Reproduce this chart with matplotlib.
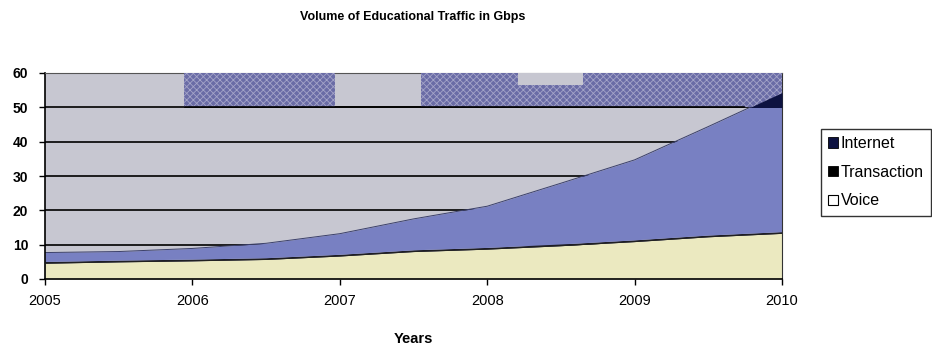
import matplotlib.pyplot as plt
from matplotlib.patches import Patch, Rectangle

# half-yearly samples, Gbps
years = [2005.0, 2005.5, 2006.0, 2006.5, 2007.0, 2007.5, 2008.0, 2008.5, 2009.0, 2009.5, 2010.0]
voice = [4.6, 5.0, 5.3, 5.7, 6.7, 8.0, 8.7, 9.7, 10.9, 12.3, 13.3]
transaction = [0.5, 0.5, 0.5, 0.5, 0.5, 0.5, 0.5, 0.5, 0.5, 0.5, 0.5]
internet = [2.6, 2.5, 3.1, 4.2, 6.0, 9.0, 12.0, 17.7, 23.3, 31.6, 40.5]

tick_years = [2005, 2006, 2007, 2008, 2009, 2010]
y_ticks = [0, 10, 20, 30, 40, 50, 60]
series_names = ["Internet", "Transaction", "Voice"]

BG = "#c7c7d1"
CREAM = "#ebe9c0"
BLUE = "#7880c2"
NAVY = "#0d1240"
TEXTURE = "#6a6ca6"

plt.rcParams["font.family"] = ["Liberation Sans", "DejaVu Sans"]
plt.rcParams["hatch.linewidth"] = 0.6

fig = plt.figure(figsize=(9.32, 3.48), dpi=100)
ax = fig.add_axes([45 / 932, 1 - 279 / 348, 737 / 932, 206 / 348])
ax.set_facecolor(BG)

# stacked layers
base = [0.0] * len(years)
voice_top = [b + v for b, v in zip(base, voice)]
trans_top = [v + t for v, t in zip(voice_top, transaction)]
inet_top = [t + i for t, i in zip(trans_top, internet)]

ax.fill_between(years, base, voice_top, color=CREAM, lw=0, zorder=2)
ax.fill_between(years, voice_top, trans_top, color="#1a1a2a", lw=0, zorder=2)

# internet layer: blue below 50, dark where it runs into the top band
inet_low = ax.fill_between(years, trans_top, inet_top, color=BLUE, lw=0, zorder=2)
inet_low.set_clip_path(Rectangle((2005, 0), 5, 50, transform=ax.transData))

# patterned band across the 50-60 strip
for x0, w in [(2005.94, 1.03), (2007.55, 2.45)]:
    ax.add_patch(Rectangle((x0, 50), w, 10, facecolor=TEXTURE, edgecolor="#a4a4c8",
                           hatch="xxxxx", lw=0, zorder=3))
ax.add_patch(Rectangle((2008.21, 56.5), 0.44, 3.5, facecolor=BG, lw=0, zorder=3))

inet_high = ax.fill_between(years, trans_top, inet_top, color=NAVY, lw=0, zorder=4)
inet_high.set_clip_path(Rectangle((2005, 50), 5, 10, transform=ax.transData))

# outline along the top of each layer
ax.plot(years, voice_top, color="#222222", lw=0.8, zorder=5)
ax.plot(years, inet_top, color="#3a3f6a", lw=0.7, zorder=2.5)

for y in [10, 20, 30, 40, 50]:
    ax.axhline(y, color="black", lw=1.2, zorder=1)
ax.axhline(50, xmin=0.19, xmax=0.948, color="black", lw=1.2, zorder=3.5)

ax.set_xlim(2005, 2010)
ax.set_ylim(0, 60)
ax.set_xticks(tick_years)
ax.set_xticklabels([str(y) for y in tick_years], fontsize=10.5)
ax.set_yticks(y_ticks)
ax.set_yticklabels([str(y) for y in y_ticks], fontsize=10, fontweight="bold")
ax.tick_params(axis="both", length=4, width=1, color="black", direction="out")
ax.tick_params(axis="x", pad=7)
ax.tick_params(axis="y", pad=8)
for side in ["left", "bottom"]:
    ax.spines[side].set_linewidth(1.2)
ax.spines["right"].set_color("#333333")
ax.spines["top"].set_color("#555555")
ax.spines["top"].set_linewidth(0.8)

ax.set_xlabel("Years", fontsize=10.5, fontweight="bold", labelpad=17)
fig.text(413 / 932, 1 - 17 / 348, "Volume of Educational Traffic in Gbps",
         ha="center", va="center", fontsize=9, fontweight="bold")

handles = [
    Patch(facecolor=NAVY, edgecolor="black", lw=0.6),
    Patch(facecolor="black", edgecolor="black", lw=0.6),
    Patch(facecolor="white", edgecolor="black", lw=0.8),
]
leg = fig.legend(handles, series_names, loc="upper left", bbox_to_anchor=(821 / 932, 1 - 129 / 348),
                 fontsize=11.5, frameon=True, fancybox=False, handlelength=0.6, handleheight=0.6,
                 handletextpad=0.2, labelspacing=0.85, borderpad=0.45, borderaxespad=0)
leg.get_frame().set_edgecolor("black")
leg.get_frame().set_linewidth(1.0)

fig.savefig("out.png", dpi=100, facecolor="white")
